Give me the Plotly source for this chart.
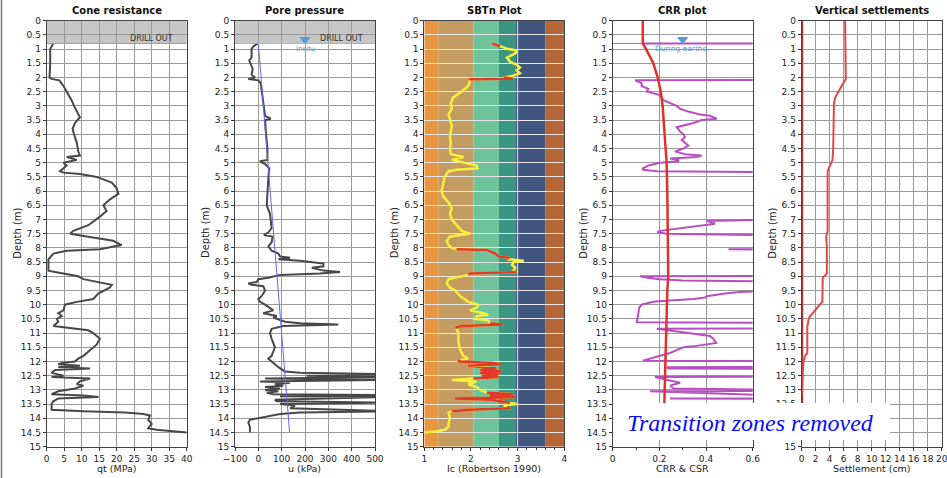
import plotly.graph_objects as go

# ---------------- data ----------------
# Cone resistance qt (MPa)
qt_depth = [0.8, 1.0, 1.5, 2.0, 2.05, 2.1, 2.3, 2.6, 2.8, 3.0, 3.2, 3.4, 3.6, 3.8, 4.0, 4.3, 4.6,
            4.75, 4.8, 4.9, 5.0, 5.1, 5.3, 5.35, 5.4, 5.5, 5.7, 5.9, 6.1, 6.3, 6.5, 6.7, 6.9, 7.1,
            7.2, 7.4, 7.5, 7.6, 7.75, 7.9, 8.05, 8.1, 8.2, 8.4, 8.8, 8.85, 9.0, 9.1, 9.2, 9.3, 9.4,
            9.6, 9.8, 9.9, 10.0, 10.2, 10.3, 10.4, 10.5, 10.6, 10.75, 10.8, 10.9, 11.0, 11.2, 11.4,
            11.6, 11.8, 11.9, 12.0, 12.05, 12.1, 12.15, 12.2, 12.25, 12.3, 12.4, 12.5, 12.55, 12.6,
            12.7, 12.8, 12.85, 12.95, 13.05, 13.15, 13.2, 13.25, 13.3, 13.4, 13.5, 13.7, 13.75,
            13.8, 13.85, 13.9, 14.05, 14.2, 14.35, 14.4, 14.5]
qt_value = [1.9, 1.0, 1.0, 0.8, 1.4, 3.6, 4.8, 6.2, 7.1, 7.8, 8.6, 9.5, 8.1, 7.4, 7.8, 8.6, 9.0,
            9.5, 5.7, 8.6, 4.8, 5.7, 3.8, 4.8, 9.5, 14.3, 18.6, 20.0, 20.5, 18.0, 16.2, 17.1, 15.2, 12.9,
            11.9, 7.6, 6.7, 11.4, 19.0, 21.4, 15.2, 5.7, 1.9, 0.5, 0.5, 2.4, 9.0, 10.5, 14.3, 18.6, 18.0,
            14.8, 13.3, 8.6, 5.2, 4.8, 3.3, 4.3, 2.9, 3.3, 1.9, 5.7, 11.9, 13.3, 15.2, 14.3,
            12.4, 10.5, 9.0, 8.1, 4.3, 3.3, 9.5, 3.3, 12.4, 2.4, 1.4, 4.8, 1.4, 12.4,
            9.5, 8.6, 10.5, 8.1, 3.3, 1.4, 10.5, 14.8, 3.3, 1.9, 1.4, 1.4, 10.5,
            22.4, 27.6, 29.5, 29.0, 30.0, 29.0, 31.4, 40.0]

# Measured pore pressure u (kPa)
u_depth = [0.8, 0.9, 1.0, 1.3, 1.4, 1.5, 1.7, 1.9, 2.0, 2.05, 2.1, 2.2, 3.0, 3.35, 3.45, 3.5, 4.0,
           4.5, 4.9, 4.95, 5.05, 5.2, 5.4, 6.0, 6.5, 6.8, 7.1, 7.3, 7.45, 7.55, 7.6, 7.8, 7.95, 8.1,
           8.2, 8.3, 8.35, 8.4, 8.45, 8.55, 8.65, 8.7, 8.8, 8.85, 8.9, 8.95, 9.05, 9.1, 9.2, 9.25,
           9.3, 9.35, 9.5, 9.7, 9.8, 9.9, 10.0, 10.2, 10.3, 10.4, 10.45, 10.55, 10.6, 10.65, 10.7,
           10.75, 10.85, 11.0, 11.2, 11.5, 11.8, 11.9, 12.0, 12.2, 12.35, 12.4, 12.45, 12.5, 12.55,
           12.6, 12.65, 12.7, 12.75, 12.8, 12.85, 12.9, 12.95, 13.0, 13.05, 13.1, 13.15, 13.18,
           13.22, 13.25, 13.35, 13.4, 13.45, 13.5, 13.55, 13.65, 13.75, 13.8, 13.85, 13.9, 14.0,
           14.05, 14.15, 14.3, 14.5]
u_value = [0, -21, -29, -29, -39, -33, -24, -29, -14, -43, 0, 10, 21, 29, 53, 29, 33,
           39, 39, 7, 29, 47, 44, 41, 36, 50, 54, 57, 43, 24, 61, 57, 43, 57,
           86, 93, 136, 86, 179, 279, 279, 229, 279, 350, 264, 93, 43, 0, -7, -43,
           -29, 21, 29, 14, 0, 7, 29, 64, 21, 79, 64, 100, 114, 179, 343,
           107, 57, 50, 57, 71, 57, 43, 57, 86, 114, 179, 560, 207, 560,
           29, 560, 7, 136, 71, 107, 29, 93, 29, 86, 36, 64, 560,
           93, 560, 71, 79, 560, 93, 157, 136, 560, 179, 93, 64, -7,
           -36, -43, -36, -36]

# In-situ hydrostatic pressure (kPa)
u0_depth = [0.8, 14.5]
u0_value = [0, 134]

# Soil behaviour type index Ic
ic_depth = [0.8, 0.9, 1.0, 1.05, 1.15, 1.3, 1.45, 1.55, 1.65, 1.75, 1.85, 1.95, 2.0, 2.04, 2.06,
            2.1, 2.3, 2.5, 2.7, 2.9, 3.1, 3.3, 3.5, 3.7, 3.9, 4.1, 4.3, 4.5, 4.7, 4.8, 4.9, 5.0,
            5.1, 5.2, 5.25, 5.3, 5.5, 5.7, 6.0, 6.2, 6.4, 6.6, 6.8, 7.0, 7.2, 7.4, 7.5, 7.6, 7.75,
            7.9, 8.0, 8.05, 8.07, 8.2, 8.3, 8.35, 8.4, 8.45, 8.5, 8.6, 8.7, 8.8, 8.85, 8.9, 8.95,
            9.0, 9.1, 9.25, 9.4, 9.5, 9.7, 9.9, 10.0, 10.1, 10.2, 10.3, 10.35, 10.4, 10.5, 10.55,
            10.65, 10.7, 10.75, 10.8, 10.85, 11.0, 11.3, 11.6, 11.8, 11.9, 11.95, 12.0, 12.05,
            12.1, 12.15, 12.2, 12.25, 12.3, 12.35, 12.4, 12.45, 12.5, 12.55, 12.6, 12.65, 12.7,
            12.8, 12.9, 13.0, 13.1, 13.15, 13.2, 13.25, 13.3, 13.35, 13.4, 13.45, 13.5, 13.55,
            13.6, 13.65, 13.7, 13.75, 13.8, 14.0, 14.2, 14.3, 14.4, 14.45, 14.5]
ic_value = [2.45, 2.62, 2.80, 2.98, 2.95, 2.77, 2.84, 2.98, 3.05, 2.98, 3.05, 2.88, 2.70, 2.91, 1.98,
            1.98, 1.94, 1.80, 1.62, 1.57, 1.59, 1.52, 1.55, 1.59, 1.57, 1.55, 1.57, 1.55, 1.57, 1.84,
            1.59, 1.87, 2.12, 2.14, 1.69, 1.52, 1.44, 1.41, 1.37, 1.41, 1.52, 1.59, 1.55, 1.59,
            1.69, 1.80, 1.98, 1.55, 1.48, 1.52, 1.59, 1.69, 2.34, 2.52, 2.59, 2.80, 2.80, 3.13,
            2.91, 2.88, 2.95, 2.91, 2.98, 1.98, 1.94, 1.77, 1.52, 1.48, 1.55, 1.66, 1.77, 1.94,
            2.16, 2.13, 1.98, 2.27, 2.37, 2.13, 2.09, 2.37, 2.41, 2.70, 1.80, 1.69, 1.69, 1.73,
            1.73, 1.77, 1.84, 1.94, 1.77, 1.73, 2.48, 2.66, 1.94, 2.23, 2.55, 2.20, 2.66, 2.20,
            2.59, 2.23, 2.59, 2.05, 1.59, 2.12, 1.94, 2.12, 2.20, 2.34, 2.91, 2.41, 2.95, 1.66,
            2.41, 2.62, 2.84, 2.98, 2.70, 2.77, 2.84, 1.94, 1.59, 1.52, 1.55, 1.52, 1.52, 1.44,
            1.30, 1.00]

# Depth intervals flagged as transition zones (m)
transition_zones = [(0.8, 0.9), (2.0, 2.1), (8.05, 8.4), (8.85, 8.95), (10.65, 10.85),
                    (11.95, 12.6), (13.1, 13.45), (13.6, 13.75)]

# Robertson (1990) SBTn zone boundaries on Ic and zone colours
sbt_bounds = [1.0, 1.31, 2.05, 2.60, 2.95, 3.60, 4.0]
sbt_colors = ["#E8963F", "#C49C62", "#6EC39B", "#3A9681", "#40567F", "#B6673A"]

# Cyclic stress ratio (CSR)
csr_depth = [0.0, 0.8, 1.0, 1.5, 2.0, 2.5, 3.0, 4.0, 5.0, 6.0, 7.5, 9.0, 9.5, 10.5, 11.0, 12.0,
             12.5, 13.0, 13.5, 14.5]
csr_value = [0.129, 0.129, 0.143, 0.174, 0.193, 0.206, 0.214, 0.224, 0.231, 0.234, 0.236, 0.238,
             0.234, 0.231, 0.229, 0.227, 0.224, 0.221, 0.220, 0.218]

# Cyclic resistance ratio (CRR); 1.0 stands for resistance beyond the plotted range
crr_depth = [0.80, 0.81, 2.08, 2.10, 2.2, 2.3, 2.4, 2.5, 2.6, 2.7, 2.8, 2.9, 3.0, 3.1, 3.2, 3.3,
             3.35, 3.45, 3.5, 3.6, 3.75, 3.9, 4.0, 4.1, 4.2, 4.3, 4.4, 4.5, 4.6, 4.7, 4.75, 4.8,
             4.85, 4.9, 4.95, 5.0, 5.1, 5.2, 5.25, 5.3, 5.36, 6.95, 7.05, 7.15, 7.2, 7.3, 7.4, 7.45,
             7.5, 7.6, 8.03, 8.05, 8.06, 8.98, 9.0, 9.05, 9.1, 9.15, 9.2, 9.45, 9.55, 9.6, 9.7, 9.75,
             9.8, 9.85, 9.9, 10.0, 10.1, 10.3, 10.45, 10.62, 10.64, 10.83, 10.85, 10.9, 11.0, 11.1,
             11.2, 11.3, 11.35, 11.45, 11.5, 11.6, 11.7, 11.8, 11.9, 11.97, 11.99, 12.18, 12.2,
             12.25, 12.27, 12.53, 12.55, 12.7, 12.75, 12.85, 12.95, 13.03, 13.05, 13.28, 13.3, 13.32]
crr_value = [0.13, 1.0, 1.0, 0.096, 0.124, 0.124, 0.153, 0.146, 0.196, 0.21, 0.217, 0.246, 0.274,
             0.289, 0.324, 0.374, 0.417, 0.446, 0.381, 0.346, 0.274, 0.289, 0.303, 0.31, 0.296,
             0.31, 0.324, 0.303, 0.267, 0.31, 0.381, 0.36, 0.246, 0.281, 0.281, 0.203, 0.153, 0.129,
             0.131, 0.19, 1.0, 1.0, 0.403, 0.439, 0.396, 0.289, 0.203, 0.191, 0.231, 1.0, 1.0, 0.496,
             1.0, 1.0, 0.117, 0.15, 0.2, 0.3, 1.0, 1.0, 0.546, 0.489, 0.403, 0.396, 0.346, 0.246,
             0.174, 0.124, 0.114, 0.110, 0.107, 0.103, 1.0, 1.0, 0.189, 0.231, 0.331, 0.417,
             0.431, 0.439, 0.443, 0.36, 0.303, 0.274, 0.246, 0.203, 0.153, 0.129, 1.0, 1.0, 0.231,
             0.24, 1.0, 1.0, 0.181, 0.26, 0.289, 0.246, 0.26, 1.0, 0.16, 1.0, 0.246, 1.0]

# Vertical settlement (cm)
set_depth = [0.0, 2.05, 2.3, 2.5, 2.7, 2.9, 4.0, 4.5, 4.9, 5.1, 5.3, 7.4, 7.6, 8.0, 8.9, 9.05, 9.9,
             10.0, 10.2, 10.4, 10.5, 10.8, 11.7, 11.8, 12.0, 12.5, 12.7, 13.2]
set_value = [6.2, 6.3, 5.7, 5.2, 4.8, 4.6, 4.6, 4.5, 4.4, 4.0, 3.7, 3.7, 3.5, 3.6, 3.6, 3.0, 2.95,
             2.6, 1.9, 1.2, 1.0, 0.8, 0.8, 0.5, 0.24, 0.14, 0.1, 0.0]
set_tz_depth = [0.0, 14.5]
set_tz_value = [0.0, 0.0]

# Depth tick labels (every 0.5 m)
depth_ticks = [i * 0.5 for i in range(31)]
depth_labels = [("%g" % d) for d in depth_ticks]

# ---------------- layout helpers ----------------
W, H = 947, 478
panel_left_px = [46.7, 235.0, 424.3, 612.7, 801.7]
panel_w_px = 140.0
plot_top_px, plot_bot_px = 20.7, 446.7
ydom = [1 - plot_bot_px / H, 1 - plot_top_px / H]

titles = ["Cone resistance", "Pore pressure", "SBTn Plot", "CRR plot", "Vertical settlements"]
xtitles = ["qt (MPa)", "u (kPa)", "Ic (Robertson 1990)", "CRR & CSR", "Settlement (cm)"]
xranges = [[0, 40], [-100, 500], [1, 4], [0, 0.6], [0, 20]]
xdticks = [5, 100, 1, 0.2, 2]
xminor = [None, None, 0.2, 0.1, None]

FONT = "DejaVu Sans"
GRID = "#9a9a9a"

fig = go.Figure()

# Cone resistance
fig.add_trace(go.Scatter(x=qt_value, y=qt_depth, mode="lines", xaxis="x", yaxis="y",
                         line=dict(color="#474747", width=2)))
# Pore pressure
fig.add_trace(go.Scatter(x=u_value, y=u_depth, mode="lines", xaxis="x2", yaxis="y2",
                         line=dict(color="#474747", width=2)))
fig.add_trace(go.Scatter(x=u0_value, y=u0_depth, mode="lines", xaxis="x2", yaxis="y2",
                         line=dict(color="#6464f0", width=1)))
fig.add_trace(go.Scatter(x=[200], y=[0.66], mode="markers", xaxis="x2", yaxis="y2",
                         marker=dict(symbol="triangle-down", size=10, color="#5d9bd8")))

# Ic: yellow curve with transition zones overdrawn in red
fig.add_trace(go.Scatter(x=ic_value, y=ic_depth, mode="lines", xaxis="x3", yaxis="y3",
                         line=dict(color="#f7f03a", width=2.5)))
red_x, red_y = [], []
for d0, d1 in transition_zones:
    for d, v in zip(ic_depth, ic_value):
        if d0 - 1e-9 <= d <= d1 + 1e-9:
            red_x.append(v)
            red_y.append(d)
    red_x.append(None)
    red_y.append(None)
fig.add_trace(go.Scatter(x=red_x, y=red_y, mode="lines", xaxis="x3", yaxis="y3",
                         line=dict(color="#e23a2a", width=2.5)))

# CRR / CSR
fig.add_trace(go.Scatter(x=[0, 0.6], y=[0.8, 0.8], mode="lines", xaxis="x4", yaxis="y4",
                         line=dict(color="#4a8fd0", width=1)))
fig.add_trace(go.Scatter(x=crr_value, y=crr_depth, mode="lines", xaxis="x4", yaxis="y4",
                         line=dict(color="#b84fc0", width=2)))
fig.add_trace(go.Scatter(x=csr_value, y=csr_depth, mode="lines", xaxis="x4", yaxis="y4",
                         line=dict(color="#e0302a", width=2.5)))
fig.add_trace(go.Scatter(x=[0.3], y=[0.66], mode="markers", xaxis="x4", yaxis="y4",
                         marker=dict(symbol="triangle-down", size=10, color="#5d9bd8")))

# Settlements
fig.add_trace(go.Scatter(x=set_tz_value, y=set_tz_depth, mode="lines", xaxis="x5", yaxis="y5",
                         line=dict(color="#b03535", width=3)))
fig.add_trace(go.Scatter(x=set_value, y=set_depth, mode="lines", xaxis="x5", yaxis="y5",
                         line=dict(color="#e04848", width=2)))

layout = dict(
    width=W, height=H, margin=dict(l=0, r=0, t=0, b=0, autoexpand=False),
    paper_bgcolor="white", plot_bgcolor="white", showlegend=False,
    font=dict(family=FONT, size=9, color="#222222"),
)
annotations = []
shapes = []
for i in range(5):
    k = "" if i == 0 else str(i + 1)
    x0 = panel_left_px[i] / W
    x1 = (panel_left_px[i] + panel_w_px) / W
    sbt = (i == 2)
    xa = dict(
        domain=[x0, x1], anchor="y" + k, range=xranges[i], dtick=xdticks[i],
        showgrid=not sbt, gridcolor=GRID, gridwidth=1, zeroline=False, automargin=False,
        ticks="outside", ticklen=3, tickcolor="#333", showline=True, linecolor="#444",
        linewidth=1, mirror=True, tickfont=dict(size=9), ticklabeloverflow="allow",
    )
    if xminor[i]:
        xa["minor"] = dict(dtick=xminor[i], ticks="outside", ticklen=2, tickcolor="#333",
                           showgrid=False)
    layout["xaxis" + k] = xa
    # the caption box hides the two lowest depth labels of the last panel
    labels = depth_labels if i < 4 else [
        "" if d in (14.0, 14.5) else t for d, t in zip(depth_ticks, depth_labels)]
    layout["yaxis" + k] = dict(
        domain=ydom, anchor="x" + k, range=[15, 0], tickmode="array",
        tickvals=depth_ticks, ticktext=labels,
        showgrid=True, gridcolor="#e8e8e8" if sbt else GRID, gridwidth=1, zeroline=False,
        automargin=False, ticklabeloverflow="allow",
        ticks="outside", ticklen=3, tickcolor="#333", showline=True, linecolor="#444",
        linewidth=1, mirror=True, tickfont=dict(size=9),
    )
    # panel title, x-axis title and depth label
    annotations.append(dict(x=(x0 + x1) / 2, y=1 - 10 / H, xref="paper", yref="paper",
                            xanchor="center", yanchor="middle",
                            text="<b>" + titles[i] + "</b>", showarrow=False,
                            font=dict(size=10, color="#111")))
    annotations.append(dict(x=(x0 + x1) / 2, y=1 - 468 / H, xref="paper", yref="paper",
                            xanchor="center", yanchor="middle", text=xtitles[i],
                            showarrow=False, font=dict(size=9.5, color="#222")))
    annotations.append(dict(x=(panel_left_px[i] - 30) / W, y=1 - 233 / H, xref="paper",
                            yref="paper", xanchor="center", yanchor="middle", textangle=-90,
                            text="Depth (m)", showarrow=False,
                            font=dict(size=10, color="#222")))

# white grid line at Ic = 3 over the zone colours
shapes.append(dict(type="line", xref="x3", yref="y3", x0=3, x1=3, y0=0, y1=15,
                   line=dict(color="#e8e8e8", width=1), layer="between"))
for j in range(len(sbt_colors)):
    shapes.append(dict(type="rect", xref="x3", yref="y3", x0=sbt_bounds[j], x1=sbt_bounds[j + 1],
                       y0=0, y1=15, fillcolor=sbt_colors[j], line=dict(width=0), layer="below"))

# drill-out zone in the first two panels
for k, tx in (("", 30), ("2", 357)):
    shapes.append(dict(type="rect", xref="x" + k + " domain", yref="y" + k, x0=0, x1=1, y0=0, y1=0.8,
                       fillcolor="#c6c6c6", line=dict(width=0), layer="below"))
    annotations.append(dict(x=tx, y=0.62, xref="x" + k, yref="y" + k, text="DRILL OUT",
                            xanchor="center", yanchor="middle",
                            showarrow=False, font=dict(size=8, color="#333")))
shapes.append(dict(type="line", xref="x domain", yref="y", x0=0, x1=1, y0=0.8, y1=0.8,
                   line=dict(color="#9a9a9a", width=1)))
shapes.append(dict(type="line", xref="x2 domain", yref="y2", x0=0, x1=1, y0=0.8, y1=0.8,
                   line=dict(color="#8fb4dc", width=1)))

annotations.append(dict(x=200, y=0.98, xref="x2", yref="y2", text="Insitu", showarrow=False,
                        xanchor="center", yanchor="middle",
                        font=dict(size=7, color="#5d9bd8")))
annotations.append(dict(x=0.3, y=0.98, xref="x4", yref="y4", text="During earthq.",
                        xanchor="center", yanchor="middle",
                        showarrow=False, font=dict(size=7.5, color="#5d9bd8")))

# caption box
shapes.append(dict(type="rect", xref="paper", yref="paper", x0=613 / W, x1=890 / W,
                   y0=1 - 440 / H, y1=1 - 403 / H, fillcolor="white", line=dict(width=0),
                   layer="above"))
annotations.append(dict(x=750 / W, y=1 - 423 / H, xref="paper", yref="paper",
                        xanchor="center", yanchor="middle",
                        text="<i>Transition zones removed</i>", showarrow=False,
                        font=dict(family="Liberation Serif", size=24, color="#0a0aff")))

# page border line on the left
shapes.append(dict(type="line", xref="paper", yref="paper", x0=1.5 / W, x1=1.5 / W, y0=0, y1=1,
                   line=dict(color="#777", width=1.5)))

layout["annotations"] = annotations
layout["shapes"] = shapes
fig.update_layout(**layout)

fig.write_html("out.html")
